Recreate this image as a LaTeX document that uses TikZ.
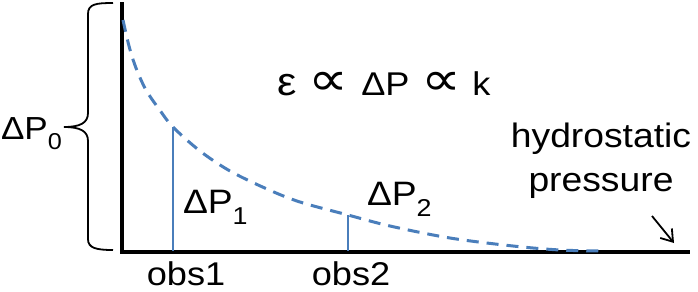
\documentclass[tikz,border=0pt]{standalone}
\usepackage{fontspec}
\setmainfont[FakeStretch=1.1]{Liberation Sans}
\newfontfamily\symfont{DejaVu Sans}
\usetikzlibrary{arrows.meta}
\definecolor{curveblue}{RGB}{74,126,187}
\newcommand\lowsub[1]{\raisebox{-0.33em}{\scalebox{0.72}{#1}}}
\newcommand\prop{\scalebox{1.7}[1.45]{\symfont ∝}}
\tikzset{
  axisline/.style={line width=3.4bp, black},
  bracestyle/.style={line width=1.8bp, black},
  obsline/.style={line width=2bp, curveblue},
  decaycurve/.style={line width=3bp, curveblue, dash pattern=on 12bp off 8bp},
  lbl/.style={inner sep=0pt, outer sep=0pt, text=black},
  pointer/.style={line width=1.8bp, -{Straight Barb[length=11bp,width=15bp]}}
}
\begin{document}
\begin{tikzpicture}[x=1bp,y=-1bp]
\useasboundingbox (0,0) rectangle (698,291);
% axes
\coordinate (orig) at (122,252);
\coordinate (ytop) at (122,2);
\coordinate (xend) at (690,252);
\draw[axisline] (ytop) -- (orig) -- (xend);
% brace
\coordinate (bracetip) at (64,127);
\draw[bracestyle] (113,3) .. controls (96,3) and (88,4) .. (88,14) -- (88,113)
  .. controls (88,123) and (80,127) .. (bracetip)
  .. controls (80,127) and (88,131) .. (88,141) -- (88,239)
  .. controls (88,248) and (96,250) .. (113,250);
% curve
\coordinate (c1) at (173,127);
\coordinate (c2) at (348,215);
\draw[decaycurve] plot[smooth, tension=0.55] coordinates {(123,20) (129,46) (136,68) (146,90) (159,109) (c1) (200,151) (230,171) (267,189) (300,202) (c2) (390,226) (450,238) (513,246) (560,250) (602,251)};
\coordinate (b1) at (173,251);
\coordinate (b2) at (348,251);
\draw[obsline] (c1) -- (b1);
\draw[obsline] (c2) -- (b2);
% labels
\node[lbl, anchor=base west, font=\fontsize{32}{38}\selectfont] (dp0) at (1,139) {ΔP\lowsub{0}};
\node[lbl, anchor=base west, font=\fontsize{34}{40}\selectfont] (dp1) at (183,213) {ΔP\lowsub{1}};
\node[lbl, anchor=base west, font=\fontsize{34}{40}\selectfont] (dp2) at (367,205) {ΔP\lowsub{2}};
\node[lbl, anchor=base west, font=\fontsize{33}{40}\selectfont] (law) at (277,95) {\scalebox{1.2}{ε}\hspace{12bp}\prop\hspace{13bp}ΔP\hspace{12bp}\prop\hspace{11bp}k};
\node[lbl, anchor=base, font=\fontsize{33}{40}\selectfont] (obs1) at (186,285) {obs1};
\node[lbl, anchor=base, font=\fontsize{33}{40}\selectfont] (obs2) at (351,285) {obs2};
\node[lbl, anchor=north, align=center, font=\fontsize{34}{44}\selectfont] (hyd) at (601,123) {hydrostatic\\pressure};
\coordinate (arrS) at (652,216);
\coordinate (arrE) at (674,243);
\draw[pointer] (arrS) -- (arrE);
\end{tikzpicture}
\end{document}
